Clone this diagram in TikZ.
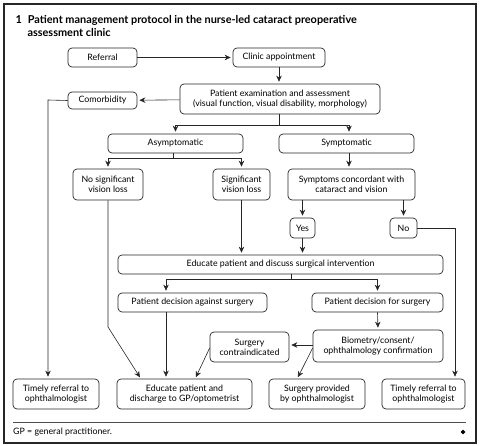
\documentclass[tikz,border=0pt]{standalone}
\usepackage{fontspec}
\setmainfont{Lato}
\usetikzlibrary{arrows.meta,calc}
\begin{document}
\begin{tikzpicture}[x=1pt,y=-1pt,
  box/.style={draw=black!85,line width=0.7pt,rounded corners=4pt,inner sep=1pt,align=center,font=\fontsize{8.8}{10.2}\selectfont},
  ln/.style={line width=0.6pt,draw=black!85},
  arr/.style={ln,-{Stealth[length=6pt,width=5.5pt]},shorten >=2pt}]
\useasboundingbox (0,0) rectangle (480,446);
\draw[line width=1.6pt,black!85] (4,4) rectangle (476,443);
\node[anchor=west,font=\fontsize{10.9}{12.5}\selectfont\bfseries,align=left] (title) at (12,26)
  {1\hspace{0.55em}Patient management protocol in the nurse-led cataract preoperative\\\hspace{1.1em}assessment clinic};
% boxes
\node[box,minimum width=69,minimum height=19] (ref) at (102.5,57.5) {Referral};
\node[box,minimum width=92,minimum height=19] (clinic) at (279,57.5) {Clinic appointment};
\node[box,minimum width=200,minimum height=30] (exam) at (280,99) {Patient examination and assessment\\(visual function, visual disability, morphology)};
\node[box,minimum width=69,minimum height=17] (comor) at (102.5,100.5) {Comorbidity};
\node[box,minimum width=135,minimum height=19] (asym) at (175.5,143.5) {Asymptomatic};
\node[box,minimum width=135,minimum height=19] (sym) at (346.5,143.5) {Symptomatic};
\node[box,minimum width=70,minimum height=31] (nosig) at (108,184.5) {No significant\\vision loss};
\node[box,minimum width=57,minimum height=31] (sig) at (241.5,184.5) {Significant\\vision loss};
\node[box,minimum width=127,minimum height=31] (conc) at (351.5,184.5) {Symptoms concordant with\\cataract and vision};
\node[box,minimum width=25,minimum height=20] (yes) at (302.5,228) {Yes};
\node[box,minimum width=27,minimum height=20] (no) at (403.5,228) {No};
\node[box,minimum width=325,minimum height=19] (edu) at (280.5,264.5) {Educate patient and discuss surgical intervention};
\node[box,minimum width=149,minimum height=19] (against) at (192.5,302.5) {Patient decision against surgery};
\node[box,minimum width=131,minimum height=19] (for) at (377.5,302.5) {Patient decision for surgery};
\node[box,minimum width=130,minimum height=32] (bio) at (378,346) {Biometry/consent/\\ophthalmology confirmation};
\node[box,minimum width=79,minimum height=30] (contra) at (249.5,347) {Surgery\\contraindicated};
\node[box,minimum width=86,minimum height=30] (tl) at (56,394) {Timely referral to\\ophthalmologist};
\node[box,minimum width=135,minimum height=30] (disc) at (184.5,394) {Educate patient and\\discharge to GP/optometrist};
\node[box,minimum width=96,minimum height=30] (prov) at (317,394) {Surgery provided\\by ophthalmologist};
\node[box,minimum width=83,minimum height=30] (tr) at (423.5,394) {Timely referral to\\ophthalmologist};
% coordinates
\coordinate (c-com) at (48,100);
\coordinate (c-ex) at (279,125);
\coordinate (c-as) at (173,158);
\coordinate (c-no) at (455,228);
\coordinate (c-ns) at (108,327);
\coordinate (c-ed) at (291,279);
\coordinate (c-ag) at (166,312);
% connectors
\draw[arr] (ref) -- (clinic);
\draw[arr] (clinic.south -| c-ex) -- (exam.north -| c-ex);
\draw[arr] (exam) -- (comor);
\draw[arr] (comor.west) -- (c-com) -- (c-com |- tl.north);
\draw[ln] (exam.south -| c-ex) -- (c-ex);
\draw[arr] (c-ex) -| (asym.north);
\draw[arr] (c-ex) -| ([xshift=2.5pt]sym.north);
\draw[ln] (asym.south -| c-as) -- (c-as);
\draw[arr] (c-as) -| (nosig.north);
\draw[arr] (c-as) -| (sig.north);
\draw[arr] ([xshift=2.5pt]sym.south) -- ([xshift=2.5pt]sym.south |- conc.north);
\draw[arr] (conc.south -| yes.north) -- (yes.north);
\draw[arr] (conc.south -| no.north) -- (no.north);
\draw[arr] (no.east) -- (c-no) -- (c-no |- tr.north);
\draw[arr] (nosig.south) -- (c-ns) -- (141,379);
\draw[arr] (sig.south) -- (sig.south |- edu.north);
\draw[arr] (yes.south) -- (yes.south |- edu.north);
\draw[ln] (edu.south -| c-ed) -- (c-ed);
\draw[arr] (c-ed) -| (c-ag |- against.north);
\draw[arr] (c-ed) -| (for.north);
\draw[arr] (c-ag) -- (c-ag |- disc.north);
\draw[arr] (for.south) -- (bio.north);
\draw[arr] (bio.west |- 0,345) -- (contra.east |- 0,345);
\draw[arr] (contra.west |- 0,348) -- (195,379);
\draw[arr] (bio.west |- 0,348) -- (297,379);
% footer
\draw[line width=0.5pt,black!70] (13,422) -- (466,422);
\node[anchor=west,font=\fontsize{8.8}{10}\selectfont,inner sep=0pt] (gp) at (13,432) {GP = general practitioner.};
\node[fill=black,shape=rectangle,inner sep=0pt,minimum size=3.5pt,rotate=45] (dm) at (463,432) {};
\end{tikzpicture}
\end{document}
